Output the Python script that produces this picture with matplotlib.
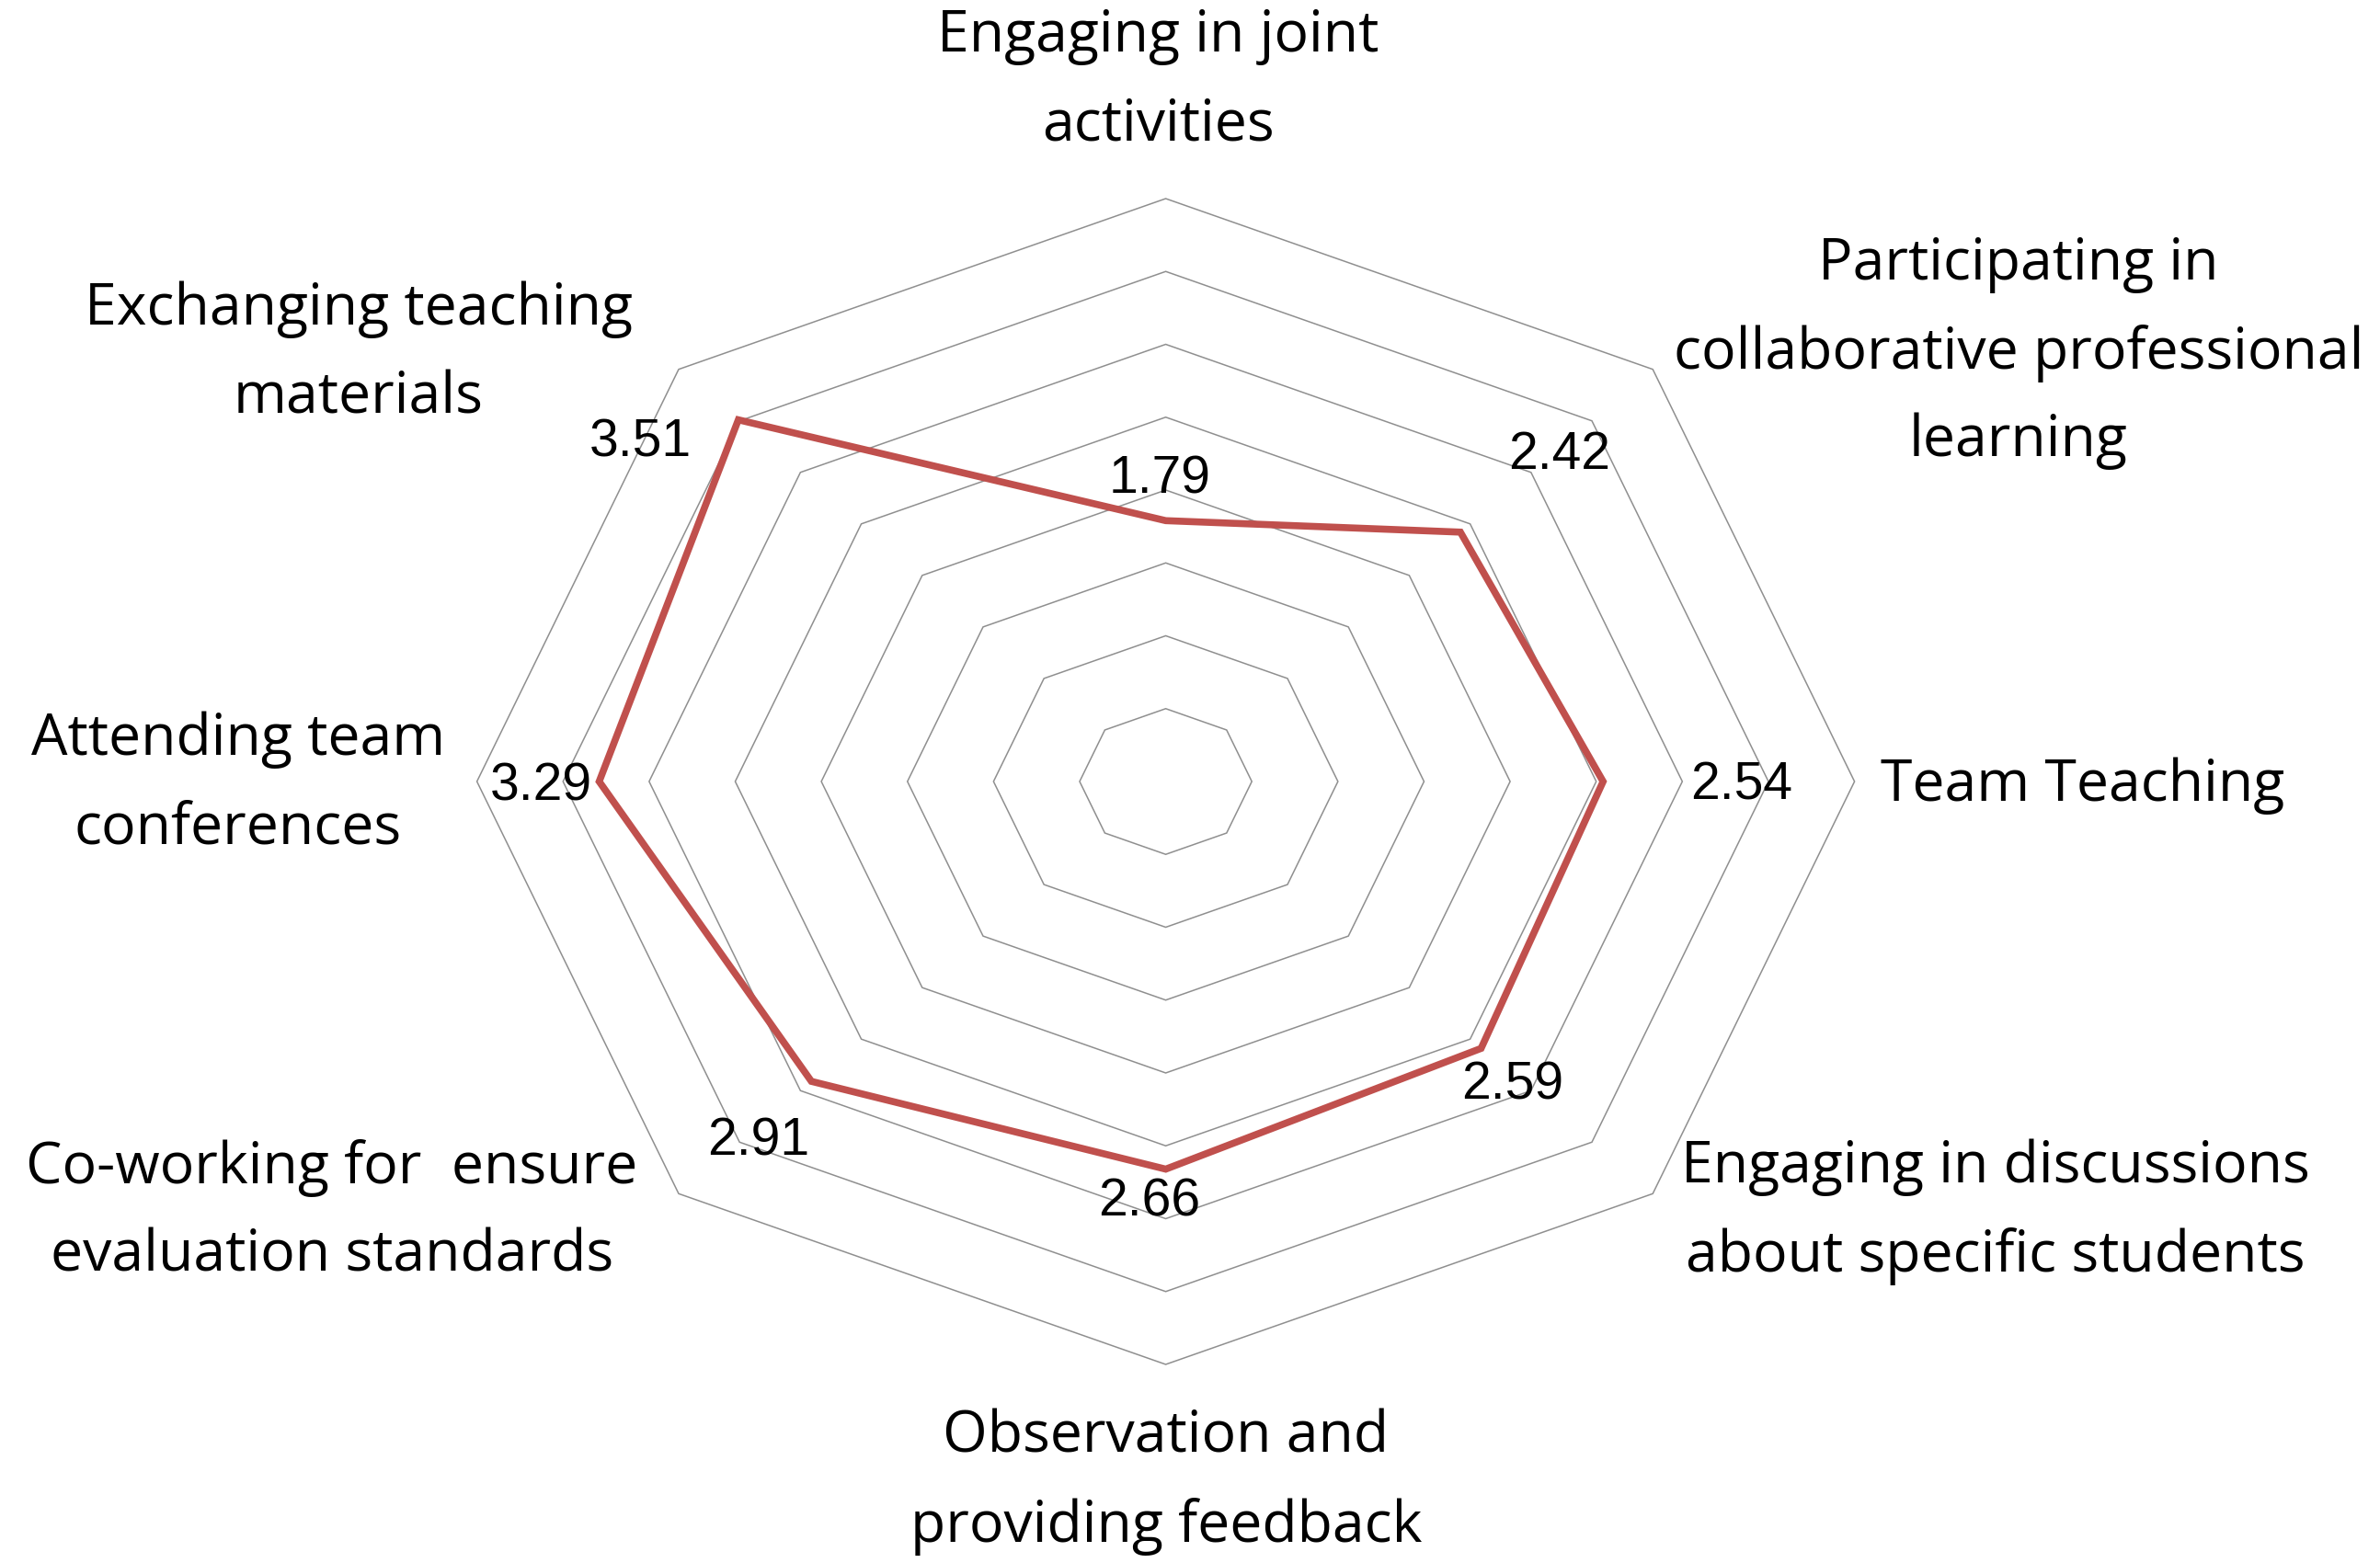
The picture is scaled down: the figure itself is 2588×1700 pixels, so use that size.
import numpy as np
import matplotlib
matplotlib.use("Agg")
import matplotlib.pyplot as plt
from matplotlib.patches import Polygon

# ---- data ----
categories = [
    "Engaging in joint\nactivities",
    "Participating in\ncollaborative professional\nlearning",
    "Team Teaching",
    "Engaging in discussions\nabout specific students",
    "Observation and\nproviding feedback",
    "Co-working for  ensure\nevaluation standards",
    "Attending team\nconferences",
    "Exchanging teaching\nmaterials",
]
values = [1.79, 2.42, 2.54, 2.59, 2.66, 2.91, 3.29, 3.51]
value_labels = ["1.79", "2.42", "2.54", "2.59", "2.66", "2.91", "3.29", "3.51"]
ring_levels = [0.5, 1.0, 1.5, 2.0, 2.5, 3.0, 3.5, 4.0]

# ---- layout ----
W, H = 2588, 1700
fig = plt.figure(figsize=(W / 100, H / 100), dpi=100)
ax = fig.add_axes([0, 0, 1, 1])
ax.set_axis_off()

cx, cy = 1267.6, 850.0          # centre in pixels (from top-left)
sx, sy = 749 / 4.0, 634 / 4.0   # pixels per value unit (x, y)
ax.set_xlim(-cx / sx, (W - cx) / sx)
ax.set_ylim(-(H - cy) / sy, cy / sy)

n = len(categories)
theta = np.deg2rad(90 - 45 * np.arange(n))
cosT, sinT = np.cos(theta), np.sin(theta)

# grid octagons
for r in ring_levels:
    ax.add_patch(Polygon(np.column_stack([r * cosT, r * sinT]), closed=True,
                         fill=False, edgecolor="#8f8f8f", lw=1.1, zorder=1))

# data line
v = np.array(values)
ax.add_patch(Polygon(np.column_stack([v * cosT, v * sinT]), closed=True, fill=False,
                     edgecolor="#C0504D", lw=5.5, joinstyle="miter", zorder=3))

# value labels (offsets in pixels relative to each point)
offsets = [(-6, 45), (108, 84), (150, -5), (34, -40), (-18, -36), (-58, -65), (-63, -5), (-107, -25)]
for val, lab, (dx, dy), c, s in zip(values, value_labels, offsets, cosT, sinT):
    ax.annotate(lab, (val * c, val * s), xytext=(dx, dy), textcoords="offset pixels",
                ha="center", va="center", fontsize=41, family=["Liberation Sans", "DejaVu Sans"],
                color="black", zorder=4)

# category labels (pixel positions of the text block centres)
label_pos = [(1259, 88), (2195, 384), (2265, 855), (2170, 1318),
             (1268, 1612), (361, 1318), (259, 853), (390, 385)]
for lab, (px, py) in zip(categories, label_pos):
    fig.text(px / W, 1 - py / H, lab, ha="center", va="center", fontsize=45,
             family=["Open Sans", "DejaVu Sans"], linespacing=1.7, color="black")

fig.savefig("out.png", dpi=100, facecolor="white")
